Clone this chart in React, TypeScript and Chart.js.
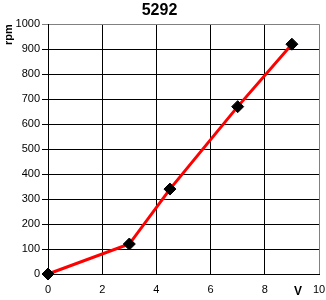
import React, { useEffect, useRef } from "react";
import { Chart, registerables } from "chart.js";

Chart.register(...registerables);

const titleText = "5292";
const yAxisTitle = "rpm";
const xAxisTitle = "V";
const voltage = [0, 3, 4.5, 7, 9];
const rpm = [0, 120, 340, 670, 920];
const xTicks = { min: 0, max: 10, step: 2 };
const yTicks = { min: 0, max: 1000, step: 100 };

const FONT = '"Liberation Sans", Arial, sans-serif';

export default function App() {
  const ref = useRef<HTMLCanvasElement | null>(null);

  useEffect(() => {
    if (!ref.current) return;
    const vLabel = {
      id: "vLabel",
      afterDraw(chart: any) {
        const ctx = chart.ctx;
        const xs = chart.scales.x;
        ctx.save();
        ctx.font = `bold 12px ${FONT}`;
        ctx.fillStyle = "#000";
        ctx.textAlign = "center";
        ctx.textBaseline = "middle";
        ctx.fillText(xAxisTitle, xs.right - 21, xs.bottom - 8);
        ctx.restore();
      },
    };
    const chart = new Chart(ref.current, {
      type: "line",
      data: {
        datasets: [
          {
            data: voltage.map((v, i) => ({ x: v, y: rpm[i] })),
            borderColor: "#ff0000",
            borderWidth: 3,
            pointStyle: "rectRot",
            pointRadius: 6,
            pointBackgroundColor: "#000",
            pointBorderColor: "#000",
            pointBorderWidth: 1,
            tension: 0,
            clip: false as any,
          },
        ],
      },
      options: {
        animation: false,
        responsive: false,
        layout: { padding: { left: 0, right: 7, top: 0, bottom: 0 } },
        plugins: {
          legend: { display: false },
          tooltip: { enabled: false },
          title: {
            display: true,
            text: titleText,
            color: "#000",
            font: { family: FONT, size: 16, weight: "bold" },
            padding: { top: 1, bottom: 4 },
          },
        },
        scales: {
          x: {
            type: "linear",
            min: xTicks.min,
            max: xTicks.max,
            ticks: {
              stepSize: xTicks.step,
              color: "#000",
              font: { family: FONT, size: 11 },
              padding: 9,
              maxRotation: 0,
              callback: (v: any) => String(v),
            },
            grid: {
              color: (c: any) => (c.tick && c.tick.value === xTicks.max ? "#808080" : "#000"),
              lineWidth: 1,
              drawTicks: false,
            },
            border: { color: "#000", width: 1 },
            afterFit: (s: any) => {
              s.height = 26;
              s.paddingRight = 0;
              s.paddingLeft = 0;
            },
          },
          y: {
            type: "linear",
            min: yTicks.min,
            max: yTicks.max,
            ticks: {
              stepSize: yTicks.step,
              color: "#000",
              font: { family: FONT, size: 11 },
              padding: 2,
              callback: (v: any) => String(v),
            },
            grid: {
              color: (c: any) => (c.tick && c.tick.value === yTicks.max ? "#808080" : "#000"),
              tickColor: (c: any) => (c.tick && c.tick.value === yTicks.max ? "#808080" : "#000"),
              lineWidth: 1,
              tickLength: 6,
            },
            border: { color: "#000", width: 1 },
            title: {
              display: true,
              text: yAxisTitle,
              align: "end",
              color: "#000",
              font: { family: FONT, size: 11, weight: "bold" },
              padding: { top: 2, bottom: 0 },
            },
            afterFit: (s: any) => {
              s.width = 48;
              s.paddingTop = 0;
              s.paddingBottom = 0;
            },
          },
        },
      },
      plugins: [vLabel],
    });
    return () => chart.destroy();
  }, []);

  return (
    <div style={{ position: "fixed", left: 0, top: 0, width: 326, height: 300, background: "#fff" }}>
      <canvas ref={ref} width={326} height={300} style={{ display: "block" }} />
    </div>
  );
}
